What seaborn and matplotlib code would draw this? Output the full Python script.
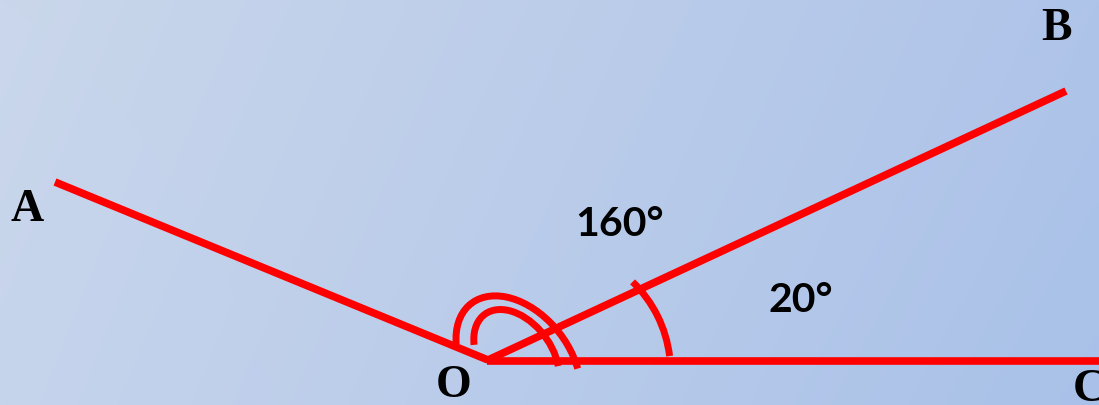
import numpy as np
import pandas as pd
import matplotlib
matplotlib.use("Agg")
import matplotlib.pyplot as plt
from matplotlib.patches import Arc
import seaborn as sns

# ===== data: rays from O (picture coords, y goes down) =====
ray_names = ["OA", "OB", "OC"]
ray_x0 = [488, 488, 487]
ray_y0 = [361, 361, 362]
ray_x1 = [55, 1066, 1099]
ray_y1 = [183, 92, 362]

# angle marks: centre x, centre y, half axes, rotation, start / end angle
arc_names = ["160 outer", "160 inner", "20"]
arc_cx = [518.3, 516.5, 546.3]
arc_cy = [364.8, 358.5, 372.2]
arc_a = [51.4, 53.6, 124.2]
arc_b = [76.5, 35.4, 124.2]
arc_rot = [141.6, -126.4, 0.0]
arc_t1 = [56, -37, -46]
arc_t2 = [223, 138, -7]

# labels
point_labels = ["A", "B", "O", "C"]
point_x = [27.5, 1056, 454, 1073]
point_y = [220.7, 40, 397, 401]
point_ha = ["center", "center", "center", "left"]
angle_labels = ["160°", "20°"]
angle_x = [575, 768]
angle_y = [235.7, 311.7]

# ===== figure =====
sns.set_theme(style="white")
fig = plt.figure(figsize=(10.99, 4.06), dpi=100)
ax = fig.add_axes([0, 0, 1, 1])

# soft blue gradient background
tl, tr = np.array([202, 215, 235]) / 255, np.array([175, 196, 233]) / 255
bl, br = np.array([198, 212, 236]) / 255, np.array([169, 193, 232]) / 255
gx = np.linspace(0, 1, 200)[None, :, None]
gy = np.linspace(0, 1, 80)[:, None, None]
bg = (1 - gy) * ((1 - gx) * tl + gx * tr) + gy * ((1 - gx) * bl + gx * br)
ax.imshow(bg, extent=(0, 1099, 406, 0), aspect="auto", interpolation="bilinear", zorder=0)

rays = pd.DataFrame({"ray": ray_names * 2, "x": ray_x0 + ray_x1, "y": ray_y0 + ray_y1})
sns.lineplot(data=rays, x="x", y="y", units="ray", estimator=None, sort=False,
             color="#ff0000", linewidth=5.5, solid_capstyle="butt", ax=ax, zorder=3)

for i in range(len(arc_names)):
    ax.add_patch(Arc((arc_cx[i], arc_cy[i]), 2 * arc_a[i], 2 * arc_b[i], angle=arc_rot[i],
                     theta1=arc_t1[i], theta2=arc_t2[i], color="#ff0000", lw=5, zorder=3))

for lab, x, y, ha in zip(point_labels, point_x, point_y, point_ha):
    ax.text(x, y, lab, ha=ha, va="baseline", family="Liberation Serif",
            weight="bold", fontsize=33, color="black")

for lab, x, y in zip(angle_labels, angle_x, angle_y):
    ax.text(x, y, lab, ha="left", va="baseline", family="Lato",
            weight="bold", fontsize=29.5, color="black")

ax.set_xlim(0, 1099)
ax.set_ylim(406, 0)
ax.axis("off")
fig.savefig("out.png", dpi=100)
